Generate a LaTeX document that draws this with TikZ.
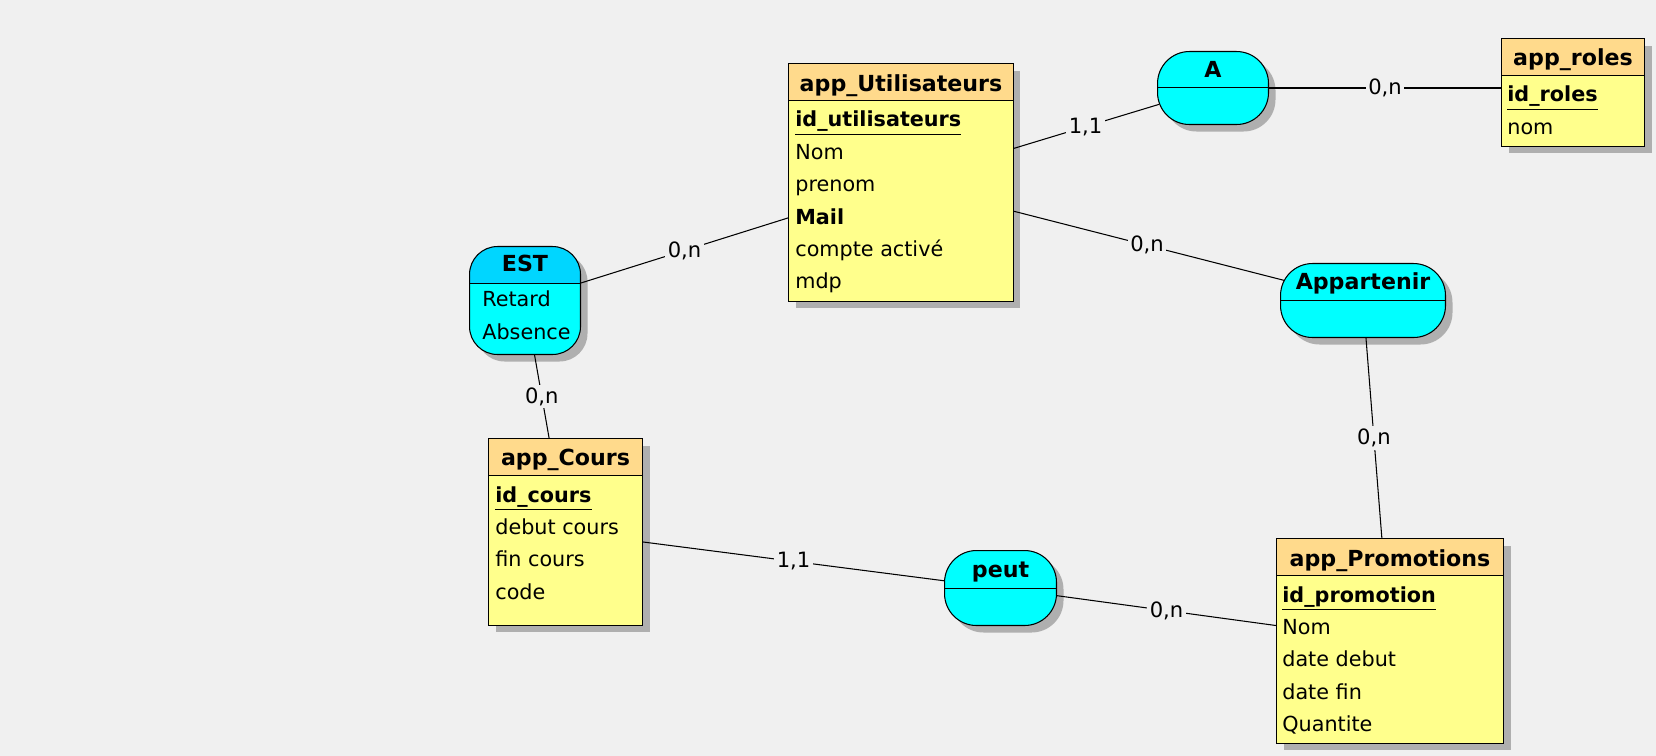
\documentclass[tikz,border=0pt]{standalone}
\usepackage{fontspec}
\setmainfont{DejaVu Sans}
\usepackage{tikz}
\usetikzlibrary{
	shadows,
	calc
}

\definecolor{bgcol}{RGB}{240,240,240}
\definecolor{shadowcol}{RGB}{175,175,175}
\definecolor{enthead}{RGB}{255,218,140}
\definecolor{entbody}{RGB}{255,255,140}
\definecolor{assochead}{RGB}{0,214,255}
\definecolor{assocbody}{RGB}{0,255,255}

\newcommand{\idkey}[1]{\underline{\textbf{#1}}}

\begin{document}
\begin{tikzpicture}[
				x=0.02cm, y=-0.02cm,
				shadowed/.style={
					drop shadow={shadow xshift=0.14cm, shadow yshift=-0.14cm,
						fill=shadowcol, opacity=1}
				},
				entity/.style={
					rectangle, draw, line width=0.6pt, fill=entbody,
					anchor=north west, inner sep=0pt, shadowed,
					path picture={
						\fill[enthead] (path picture bounding box.north west) rectangle ([yshift=-0.74cm]path picture bounding box.north east);
						\draw[line width=0.6pt] ([yshift=-0.74cm]path picture bounding box.north west) -- ([yshift=-0.74cm]path picture bounding box.north east);
					}
				},
				assoc/.style={
					rectangle, rounded corners=0.64cm, draw, line width=0.6pt, fill=assocbody,
					anchor=north west, inner sep=0pt, shadowed,
					path picture={
						\draw[line width=0.6pt, sharp corners] ([yshift=-#1]path picture bounding box.north west) -- ([yshift=-#1]path picture bounding box.north east);
					}
				},
				estbox/.style={
					rectangle, rounded corners=0.56cm, draw, line width=0.6pt, fill=assocbody,
					anchor=north west, inner sep=0pt, shadowed,
					path picture={
						\fill[assochead, sharp corners] (path picture bounding box.north west) rectangle ([yshift=-0.74cm]path picture bounding box.north east);
						\draw[line width=0.6pt, sharp corners] ([yshift=-0.74cm]path picture bounding box.north west) -- ([yshift=-0.74cm]path picture bounding box.north east);
					}
				},
				title/.style={
					font=\bfseries\fontsize{12.6}{14}\selectfont,
					inner sep=0pt, anchor=base
				},
				field/.style={
					font=\fontsize{11.8}{14}\selectfont,
					inner sep=0pt, anchor=base west
				},
				card/.style={
					fill=bgcol, inner sep=1.5pt,
					font=\fontsize{12}{13}\selectfont
				},
				link/.style={line width=0.6pt, black}
				]
				
				\fill[bgcol] (0,0) rectangle (1656,756);
				\useasboundingbox (0,0) rectangle (1656,756);
				
				% app_Utilisateurs
				\node[entity, minimum width=4.5cm, minimum height=4.76cm] (util) at (788,63) {};
				\node[title] (util-t) at ($(util.north)+(0,29)$) {app\_Utilisateurs};
				\foreach \txt [count=\i] in {\idkey{id\_utilisateurs}, Nom, prenom, \textbf{Mail}, compte activé, mdp}
					\node[field] (util-\i) at ($(util.north west)+(7,{64+32.4*(\i-1)})$) {\txt};
				
				% app_roles
				\node[entity, minimum width=2.86cm, minimum height=2.16cm] (roles) at (1501,38) {};
				\node[title] (roles-t) at ($(roles.north)+(0,28)$) {app\_roles};
				\foreach \txt [count=\i] in {\idkey{id\_roles}, nom}
					\node[field] (roles-\i) at ($(roles.north west)+(6,{64+32.4*(\i-1)})$) {\txt};
				
				% app_Cours
				\node[entity, minimum width=3.08cm, minimum height=3.74cm] (cours) at (488,438) {};
				\node[title] (cours-t) at ($(cours.north)+(0,28)$) {app\_Cours};
				\foreach \txt [count=\i] in {\idkey{id\_cours}, debut cours, fin cours, code}
					\node[field] (cours-\i) at ($(cours.north west)+(7,{64+32.4*(\i-1)})$) {\txt};
				
				% app_Promotions
				\node[entity, minimum width=4.54cm, minimum height=4.1cm] (promo) at (1276,538) {};
				\node[title] (promo-t) at ($(promo.north)+(0,28)$) {app\_Promotions};
				\foreach \txt [count=\i] in {\idkey{id\_promotion}, Nom, date debut, date fin, Quantite}
					\node[field] (promo-\i) at ($(promo.north west)+(6,{64+32.4*(\i-1)})$) {\txt};
				
				% A
				\node[assoc=0.72cm, minimum width=2.22cm, minimum height=1.46cm] (A) at (1157,51) {};
				\node[title] (A-t) at ($(A.north)+(0,27)$) {A};
				
				% EST (with attributes)
				\node[estbox, minimum width=2.22cm, minimum height=2.16cm] (est) at (469,246) {};
				\node[title] (est-t) at ($(est.north)+(0,26)$) {EST};
				\foreach \txt [count=\i] in {Retard, Absence}
					\node[field] (est-\i) at ($(est.north west)+(13,{61+32.7*(\i-1)})$) {\txt};
				
				% peut
				\node[assoc=0.76cm, minimum width=2.24cm, minimum height=1.5cm] (peut) at (944,550) {};
				\node[title] (peut-t) at ($(peut.north)+(0,27)$) {peut};
				
				% Appartenir
				\node[assoc=0.74cm, minimum width=3.3cm, minimum height=1.48cm] (appart) at (1280,263) {};
				\node[title] (appart-t) at ($(appart.north)+(0,27)$) {Appartenir};
				
				% links with cardinalities
				\draw[link, shorten >=-0.04cm] (util) -- node[card] (c1) {1,1} (A);
				\draw[link] (A.east) -- node[card] (c2) {0,n} (A.east -| roles.west);
				\draw[link, shorten >=-0.08cm] (util) -- node[card] (c3) {0,n} (appart);
				\draw[link] (est)    -- node[card] (c4) {0,n} (util);
				\draw[link] (est)    -- node[card] (c5) {0,n} (cours);
				\draw[link] (appart) -- node[card] (c6) {0,n} (promo);
				\draw[link] (cours)  -- node[card] (c7) {1,1} (peut);
				\draw[link] (peut)   -- node[card] (c8) {0,n} (promo);
			\end{tikzpicture}
\end{document}
